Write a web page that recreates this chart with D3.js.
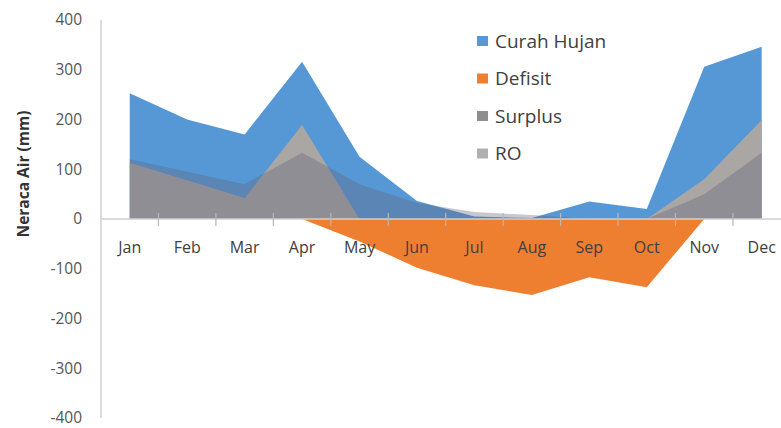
<!DOCTYPE html>
<html lang="en">
<head>
  <meta charset="UTF-8">
  <script src="https://d3js.org/d3.v7.min.js"></script>
  <style>
    body { margin: 0; background: #fff; }
    text { font-family: "Open Sans", sans-serif; }
  </style>
  <title>Neraca Air</title>
</head>
<body>
  <div id="chart"></div>
  <script>
    // data (mm)
    var months = ["Jan", "Feb", "Mar", "Apr", "May", "Jun", "Jul", "Aug", "Sep", "Oct", "Nov", "Dec"];
    var curahHujan = [253, 200, 170, 316, 125, 36, 5, 2, 35, 20, 306, 346];
    var defisit = [0, 0, 0, 0, -45, -98, -133, -153, -117, -137, 0, 0];
    var surplus = [120, 95, 70, 133, 70, 32, 14, 8, 0, 0, 50, 133];
    var ro = [113, 78, 42, 189, 0, 0, 0, 0, 0, 0, 80, 199];
    var yTicks = [-400, -300, -200, -100, 0, 100, 200, 300, 400];

    var width = 781, height = 428;
    var plotLeft = 101, plotTop = 20, plotBottom = 418;

    var svg = d3.select("#chart").append("svg")
        .attr("width", width)
        .attr("height", height);

    var x = d3.scaleBand()
        .domain(months)
        .range([plotLeft, plotLeft + 12 * 57.45]);

    var y = d3.scaleLinear()
        .domain([-400, 400])
        .range([plotBottom, plotTop]);

    function cx(i) { return x(months[i]) + x.bandwidth() / 2; }

    var area = d3.area()
        .x(function(d, i) { return cx(i); })
        .y0(y(0))
        .y1(function(d) { return y(d); });

    // draw order matters: later layers sit on top
    var layers = [
      { values: curahHujan, fill: "#5698d5", opacity: 1 },
      { values: defisit, fill: "#ee7f30", opacity: 1 },
      { values: ro, fill: "#aaa6a3", opacity: 1 },
      { values: surplus, fill: "#61647d", opacity: 0.36 }
    ];

    svg.selectAll(".area")
        .data(layers)
        .enter().append("path")
        .attr("class", "area")
        .attr("d", function(d) { return area(d.values); })
        .attr("fill", function(d) { return d.fill; })
        .attr("fill-opacity", function(d) { return d.opacity; });

    // y axis
    svg.append("line")
        .attr("x1", plotLeft).attr("x2", plotLeft)
        .attr("y1", plotTop).attr("y2", plotBottom)
        .attr("stroke", "#d0d0d0").attr("stroke-width", 1.5);

    svg.selectAll(".ylab")
        .data(yTicks)
        .enter().append("text")
        .attr("class", "ylab")
        .attr("x", 82)
        .attr("y", function(d) { return y(d); })
        .attr("dy", "0.35em")
        .attr("text-anchor", "end")
        .attr("font-size", 15.5)
        .attr("fill", "#555")
        .text(function(d) { return d; });

    // x axis at zero
    svg.append("line")
        .attr("x1", plotLeft).attr("x2", width)
        .attr("y1", y(0)).attr("y2", y(0))
        .attr("stroke", "#cfcfcf").attr("stroke-width", 1.5);

    svg.selectAll(".xtick")
        .data(d3.range(1, 13))
        .enter().append("line")
        .attr("class", "xtick")
        .attr("x1", function(d) { return plotLeft + d * x.bandwidth(); })
        .attr("x2", function(d) { return plotLeft + d * x.bandwidth(); })
        .attr("y1", y(0) - 6)
        .attr("y2", y(0) + 7)
        .attr("stroke", "#b8b8b8").attr("stroke-width", 1.2);

    svg.selectAll(".xlab")
        .data(months)
        .enter().append("text")
        .attr("class", "xlab")
        .attr("x", function(d, i) { return cx(i); })
        .attr("y", y(0) + 28)
        .attr("dy", "0.35em")
        .attr("text-anchor", "middle")
        .attr("font-size", 16)
        .attr("fill", "#404040")
        .text(function(d) { return d; });

    // axis title
    svg.append("text")
        .attr("transform", "translate(29,174) rotate(-90)")
        .attr("text-anchor", "middle")
        .attr("font-size", 15.5)
        .attr("font-weight", "bold")
        .attr("fill", "#333")
        .text("Neraca Air (mm)");

    // legend
    var legendNames = ["Curah Hujan", "Defisit", "Surplus", "RO"];
    var legendColors = ["#5698d5", "#ee7f30", "#8e8e8e", "#b0b0b0"];

    var legend = svg.selectAll(".legend")
        .data(legendNames)
        .enter().append("g")
        .attr("class", "legend")
        .attr("transform", function(d, i) { return "translate(477," + (41 + i * 37.5) + ")"; });

    legend.append("rect")
        .attr("x", 0).attr("y", -5)
        .attr("width", 11).attr("height", 10)
        .attr("fill", function(d, i) { return legendColors[i]; });

    legend.append("text")
        .attr("x", 18)
        .attr("dy", "0.35em")
        .attr("font-size", 19)
        .attr("fill", "#404040")
        .text(function(d) { return d; });
  </script>
</body>
</html>
